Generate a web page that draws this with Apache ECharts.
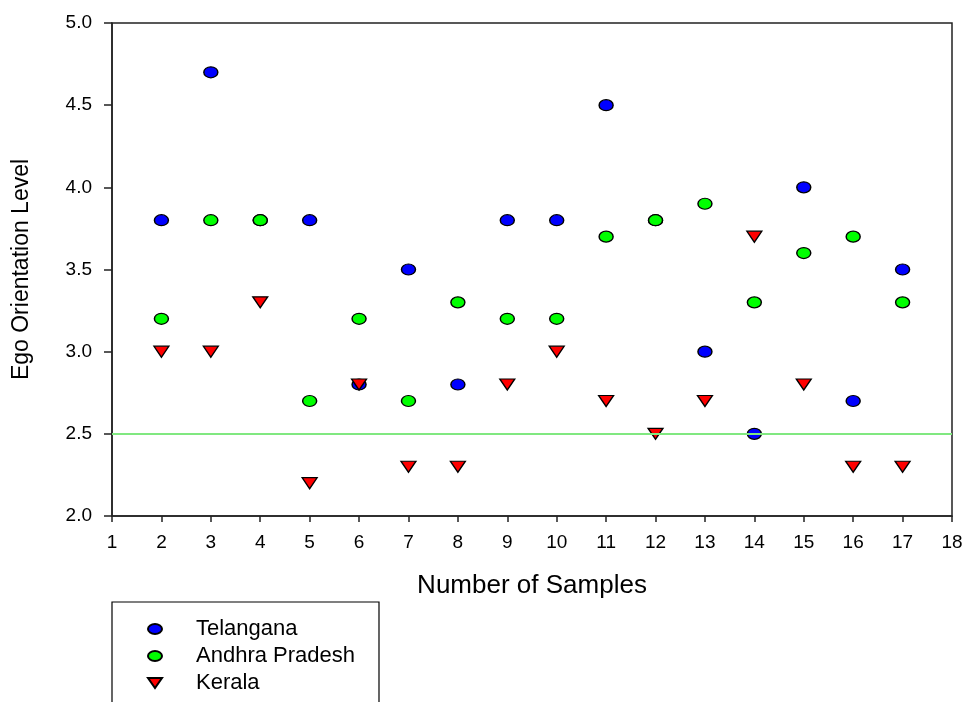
<!DOCTYPE html>
<html>
<head>
<meta charset="utf-8">
<title>Ego Orientation Level</title>
<script src="https://cdn.jsdelivr.net/npm/echarts@6/dist/echarts.min.js"></script>
<style>
  html, body { margin: 0; padding: 0; background: #fff; }
  #chart { width: 968px; height: 702px; }
</style>
</head>
<body>
<div id="chart"></div>
<script>
// sample numbers (x axis)
var samples = [2, 3, 4, 5, 6, 7, 8, 9, 10, 11, 12, 13, 14, 15, 16, 17]
var telangana = [3.8, 4.7, 3.8, 3.8, 2.8, 3.5, 2.8, 3.8, 3.8, 4.5, 3.8, 3.0, 2.5, 4.0, 2.7, 3.5]
var andhraPradesh = [3.2, 3.8, 3.8, 2.7, 3.2, 2.7, 3.3, 3.2, 3.2, 3.7, 3.8, 3.9, 3.3, 3.6, 3.7, 3.3]
var kerala = [3.0, 3.0, 3.3, 2.2, 2.8, 2.3, 2.3, 2.8, 3.0, 2.7, 2.5, 2.7, 3.7, 2.8, 2.3, 2.3]
var refLevel = 2.5

var font = 'Liberation Sans, Arial, sans-serif'
var ellipse = 'path://M0,5a7,5 0 1,0 14,0a7,5 0 1,0 -14,0Z'
var downTriangle = 'path://M0,0L14,0L7,11Z'

function pairs(vals) {
  var out = []
  for (var i = 0; i < samples.length; i++) {
    out.push([samples[i], vals[i]])
  }
  return out
}

var chart = echarts.init(document.getElementById('chart'))

var pointStyle = function(color) {
  return { color: color, borderColor: '#000', borderWidth: 1.3, opacity: 1 }
}

var option = {
  backgroundColor: '#fff',
  animation: false,
  grid: {
    left: 112,
    top: 23,
    right: 16,
    bottom: 186,
    show: true,
    borderColor: '#222',
    borderWidth: 1.5
  },
  legend: {
    orient: 'vertical',
    left: 112,
    top: 602,
    height: 160,
    padding: [16, 24, 30, 35],
    itemGap: 5,
    itemWidth: 14,
    itemHeight: 10,
    symbolKeepAspect: false,
    borderColor: '#000',
    borderWidth: 1.2,
    textStyle: {
      fontFamily: font,
      fontSize: 22,
      color: '#000',
      padding: [0, 0, 0, 29]
    },
    data: [
      { name: 'Telangana', icon: ellipse },
      { name: 'Andhra Pradesh', icon: ellipse },
      { name: 'Kerala', icon: downTriangle }
    ]
  },
  xAxis: {
    type: 'value',
    min: 1,
    max: 18,
    interval: 1,
    name: 'Number of Samples',
    nameLocation: 'middle',
    nameGap: 57,
    nameTextStyle: { fontFamily: font, fontSize: 26, color: '#000' },
    splitLine: { show: false },
    axisLine: { lineStyle: { color: '#222', width: 1.5 } },
    axisTick: { length: 6, lineStyle: { color: '#222', width: 1.5 } },
    axisLabel: { margin: 17, fontFamily: font, fontSize: 19, color: '#000' }
  },
  yAxis: {
    type: 'value',
    min: 2,
    max: 5,
    interval: 0.5,
    name: 'Ego Orientation Level',
    nameLocation: 'middle',
    nameGap: 79,
    nameTextStyle: { fontFamily: font, fontSize: 23, color: '#000' },
    splitLine: { show: false },
    axisLine: { lineStyle: { color: '#222', width: 1.5 } },
    axisTick: { length: 8, lineStyle: { color: '#222', width: 1.5 } },
    axisLabel: {
      margin: 20,
      fontFamily: font,
      fontSize: 19,
      color: '#000',
      formatter: function(v) { return v.toFixed(1) }
    }
  },
  series: [
    {
      name: 'Telangana',
      type: 'scatter',
      symbol: 'circle',
      symbolSize: [14, 11],
      itemStyle: pointStyle('#0000FF'),
      data: pairs(telangana)
    },
    {
      name: 'Andhra Pradesh',
      type: 'scatter',
      symbol: 'circle',
      symbolSize: [14, 11],
      itemStyle: pointStyle('#00FF00'),
      data: pairs(andhraPradesh)
    },
    {
      name: 'Kerala',
      type: 'scatter',
      symbol: downTriangle,
      symbolSize: [15, 11],
      itemStyle: pointStyle('#FF0000'),
      data: pairs(kerala),
      markLine: {
        silent: true,
        symbol: 'none',
        z: 10,
        label: { show: false },
        lineStyle: { color: '#80E880', type: 'solid', width: 2 },
        data: [{ yAxis: refLevel }]
      }
    }
  ]
}

chart.setOption(option)
</script>
</body>
</html>
